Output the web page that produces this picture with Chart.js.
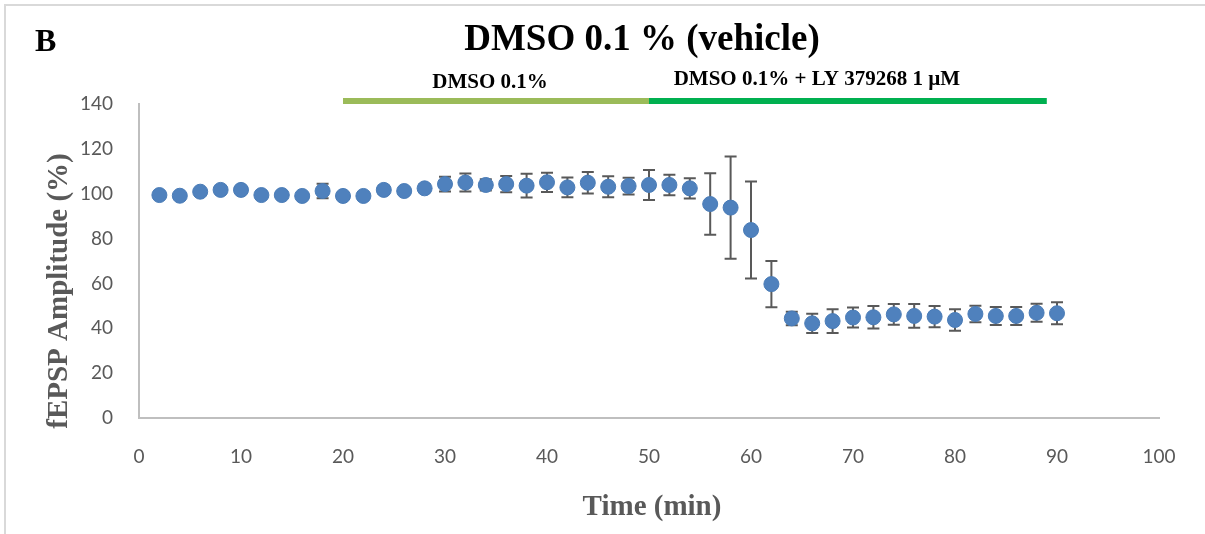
<!DOCTYPE html>
<html>
<head>
<meta charset="utf-8">
<script src="https://cdn.jsdelivr.net/npm/chart.js@4.4.1/dist/chart.umd.min.js"></script>
<style>
  html, body { margin: 0; padding: 0; background: #fff; }
  #wrap { position: relative; width: 1205px; height: 534px; }
</style>
</head>
<body>
<div id="wrap"><canvas id="c" width="1205" height="534"></canvas></div>
<script>
// ---- data ----
const times = [2,4,6,8,10,12,14,16,18,20,22,24,26,28,30,32,34,36,38,40,42,44,46,48,50,52,54,56,58,60,62,64,66,68,70,72,74,76,78,80,82,84,86,88,90];
const amplitude = [99.4,99.1,100.9,101.7,101.7,99.4,99.4,99.0,101.2,99.0,99.0,101.7,101.2,102.4,104.3,105.0,103.9,104.3,103.6,105.1,102.8,104.9,103.1,103.4,103.9,103.9,102.4,95.4,93.8,83.8,59.7,44.4,42.2,43.2,44.8,44.9,46.2,45.5,45.2,43.7,46.4,45.5,45.5,46.9,46.7];
const sem = [1.2,1.2,1.3,1.3,1.3,1.2,1.2,1.3,3.2,1.5,1.5,1.8,1.5,1.8,3.3,4.0,2.5,3.6,5.3,4.3,4.4,4.8,4.7,3.7,6.7,4.6,4.5,13.7,22.8,21.6,10.3,3.0,4.3,5.3,4.5,5.0,4.6,5.3,4.7,4.8,3.7,4.0,4.0,4.0,4.9];
const xTicks = { min: 0, max: 100, step: 10 };
const yTicks = { min: 0, max: 140, step: 20 };
const treatments = [
  { label: 'DMSO 0.1%', start: 20, end: 50, color: '#9bbb59' },
  { label: 'DMSO 0.1% + LY 379268 1 µM', start: 50, end: 89, color: '#00b050' }
];
const treatmentLevel = 141.3;
const panelLetter = 'B';
const chartTitle = 'DMSO 0.1 % (vehicle)';
const xTitle = 'Time (min)';
const yTitle = 'fEPSP Amplitude (%)';

const points = times.map((t, i) => ({ x: t, y: amplitude[i] }));

const datasets = [
  {
    type: 'scatter',
    label: 'fEPSP',
    data: points,
    backgroundColor: '#4f81bd',
    borderColor: '#4a7cb7',
    borderWidth: 1,
    pointRadius: 7.5,
    pointHoverRadius: 7.5,
    order: 1
  }
];
treatments.forEach(tr => {
  datasets.push({
    type: 'line',
    label: tr.label,
    data: [{ x: tr.start, y: treatmentLevel }, { x: tr.end, y: treatmentLevel }],
    borderColor: tr.color,
    borderWidth: 6,
    borderCapStyle: 'butt',
    pointRadius: 0,
    clip: false,
    order: 2
  });
});

const errorBars = {
  id: 'errorBars',
  beforeDatasetsDraw(chart) {
    const ctx = chart.ctx, xs = chart.scales.x, ys = chart.scales.y;
    ctx.save();
    ctx.strokeStyle = '#595959';
    ctx.lineWidth = 2;
    times.forEach((t, i) => {
      const px = xs.getPixelForValue(t);
      const top = ys.getPixelForValue(amplitude[i] + sem[i]);
      const bot = ys.getPixelForValue(amplitude[i] - sem[i]);
      ctx.beginPath();
      ctx.moveTo(px, top); ctx.lineTo(px, bot);
      ctx.moveTo(px - 6, top); ctx.lineTo(px + 6, top);
      ctx.moveTo(px - 6, bot); ctx.lineTo(px + 6, bot);
      ctx.stroke();
    });
    ctx.restore();
  }
};

const decorations = {
  id: 'decorations',
  beforeDraw(chart) {
    const ctx = chart.ctx;
    ctx.save();
    ctx.fillStyle = '#fff';
    ctx.fillRect(0, 0, chart.width, chart.height);
    ctx.strokeStyle = '#d9d9d9';
    ctx.lineWidth = 2;
    ctx.beginPath();
    ctx.moveTo(5, 534); ctx.lineTo(5, 5); ctx.lineTo(1205, 5);
    ctx.stroke();
    ctx.restore();
  },
  afterDraw(chart) {
    const ctx = chart.ctx, xs = chart.scales.x, ys = chart.scales.y;
    const ca = chart.chartArea;
    ctx.save();
    ctx.fillStyle = '#000';
    ctx.textBaseline = 'middle';
    ctx.textAlign = 'left';
    ctx.font = 'bold 32px "Liberation Serif", "Times New Roman", serif';
    ctx.fillText(panelLetter, 35, 43);
    ctx.textAlign = 'center';
    ctx.font = 'bold 37px "Liberation Serif", "Times New Roman", serif';
    ctx.fillText(chartTitle, 642, 40);
    ctx.font = 'bold 21px "Liberation Serif", "Times New Roman", serif';
    const offs = [83, 80];
    treatments.forEach((tr, i) => {
      const cx = (xs.getPixelForValue(tr.start) + xs.getPixelForValue(tr.end)) / 2;
      ctx.fillText(tr.label, i === 0 ? cx - 6 : cx - 31, offs[i]);
    });
    ctx.fillStyle = '#595959';
    ctx.font = 'bold 29px "Liberation Serif", "Times New Roman", serif';
    ctx.fillText(xTitle, 652, 508);
    ctx.translate(60, 291);
    ctx.rotate(-Math.PI / 2);
    ctx.fillText(yTitle, 0, 0);
    ctx.restore();
  }
};

new Chart(document.getElementById('c'), {
  data: { datasets },
  options: {
    responsive: false,
    animation: false,
    layout: { padding: { left: 0, right: 46, top: 104, bottom: 0 } },
    plugins: { legend: { display: false }, tooltip: { enabled: false }, title: { display: false } },
    scales: {
      x: {
        type: 'linear',
        min: xTicks.min, max: xTicks.max,
        ticks: { stepSize: xTicks.step, color: '#595959', font: { family: 'Lato, "Open Sans", sans-serif', size: 19 }, padding: 27, maxRotation: 0 },
        grid: { display: false, drawTicks: false },
        border: { display: true, color: '#bfbfbf', width: 2 },
        afterFit(s) { s.height = 534 - 418; }
      },
      y: {
        type: 'linear',
        min: yTicks.min, max: yTicks.max,
        ticks: { stepSize: yTicks.step, color: '#595959', font: { family: 'Lato, "Open Sans", sans-serif', size: 19 }, padding: 26 },
        grid: { display: false, drawTicks: false },
        border: { display: true, color: '#bfbfbf', width: 2 },
        afterFit(s) { s.width = 139; }
      }
    }
  },
  plugins: [decorations, errorBars]
});
</script>
</body>
</html>
